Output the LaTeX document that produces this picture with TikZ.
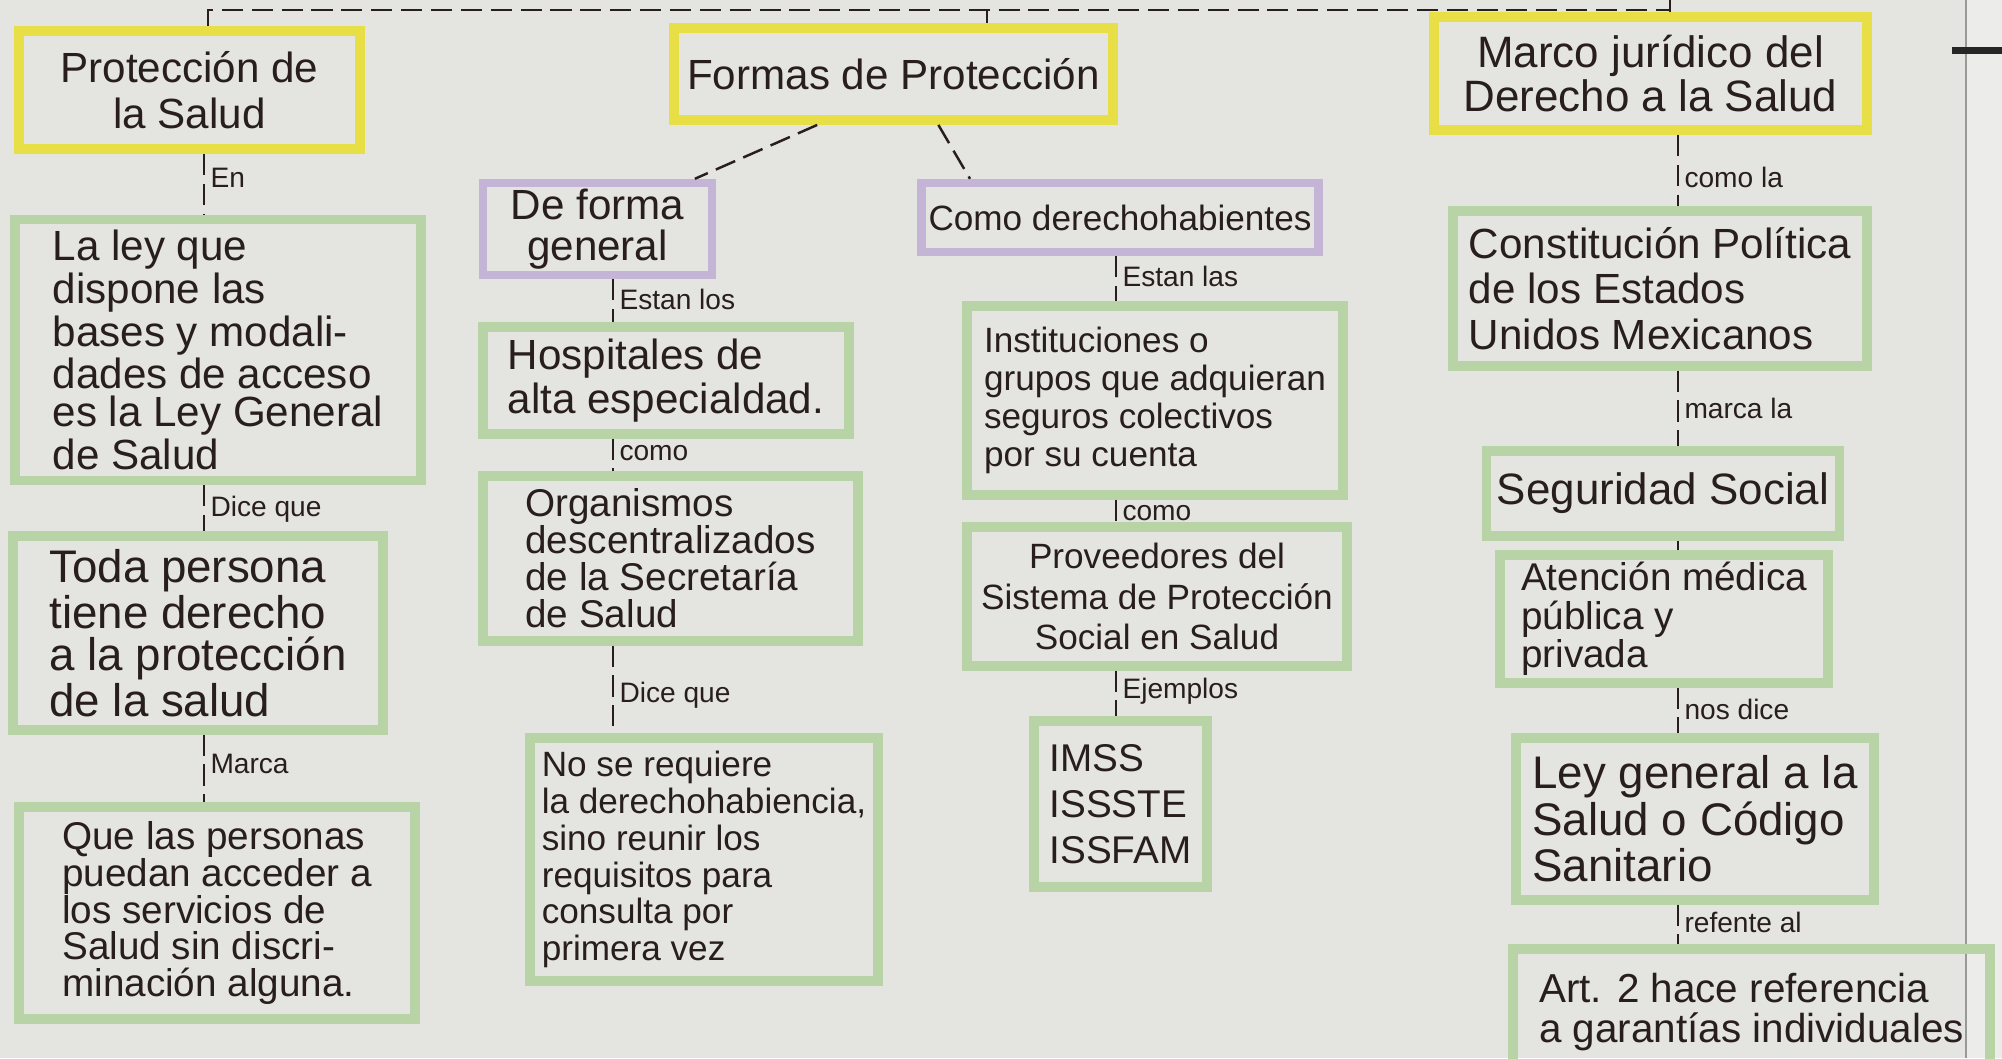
\documentclass[tikz,border=0pt]{standalone}
\usepackage{fontspec}
\setmainfont{Liberation Sans}
\usepackage{tikz}
\usetikzlibrary{positioning,calc}
\usepackage{xcolor}
\definecolor{paper}{RGB}{228,228,224}
\definecolor{paperedge}{RGB}{236,236,234}
\definecolor{ink}{RGB}{40,30,30}
\definecolor{mkyellow}{RGB}{232,222,70}
\definecolor{mkgreen}{RGB}{184,211,166}
\definecolor{mkpurple}{RGB}{196,180,214}
\newcommand{\hand}[2]{\fontsize{#1}{#2}\selectfont}
\tikzstyle{titlebox} = [rectangle, draw=mkyellow, line width=2.8pt, text=ink, align=center, inner sep=2pt]
\tikzstyle{formbox} = [rectangle, draw=mkpurple, line width=2.4pt, text=ink, align=center, inner sep=2pt]
\tikzstyle{infobox} = [rectangle, draw=mkgreen, line width=2.6pt, text=ink, align=left, inner sep=3pt]
\tikzstyle{link} = [line width=0.7pt, dash pattern=on 6pt off 2.5pt, color=ink]
\tikzstyle{lbl} = [right, font=\hand{8}{9}, text=ink, inner sep=1.5pt]

\begin{document}
\begin{tikzpicture}
\useasboundingbox (0,0) rectangle (20.02,-10.58);
\clip (0,0) rectangle (20.02,-10.58);
% Paper
\fill[paper] (0,0) rectangle (20.02,-10.58);
\fill[paperedge] (19.66,0) rectangle (20.02,-10.58);
\draw[black!40, line width=0.6pt] (19.66,0) -- (19.66,-10.58);
\fill[black!85] (19.52,-0.47) rectangle (20.02,-0.54);
% Columns
\coordinate (colA) at (2.04,0);
\coordinate (colB) at (6.13,0);
\coordinate (colC) at (11.16,0);
\coordinate (colD) at (16.78,0);
\coordinate (topL) at (2.08,-0.10);
\coordinate (topM) at (9.87,-0.10);
\coordinate (topR) at (16.70,0);
% Titles
\node (prot) [titlebox, minimum width=3.41cm, minimum height=1.18cm, font=\hand{12}{13}] at (1.895,-0.90) {Protección de\\la Salud};
\node (formas) [titlebox, minimum width=4.39cm, minimum height=0.92cm, font=\hand{12}{12}] at (8.935,-0.74) {Formas de Protección};
\node (marco) [titlebox, minimum width=4.33cm, minimum height=1.13cm, font=\hand{12.5}{12.5}] at (16.505,-0.735) {Marco jurídico del\\Derecho a la Salud};
% Forms
\node (general) [formbox, minimum width=2.29cm, minimum height=0.92cm, inner sep=1pt, font=\hand{12}{11.5}] at (5.975,-2.29) {De forma\\general};
\node (derecho) [formbox, minimum width=3.86cm, minimum height=0.69cm, font=\hand{10}{10}] at (11.20,-2.175) {Como derechohabientes};
% Left column
\node (ley) [infobox, minimum width=4.06cm, minimum height=2.50cm, font=\hand{12}{10.8}] at (2.18,-3.50) {La ley que\\dispone las\\bases y modali-\\dades de acceso\\es la Ley General\\de Salud};
\node (toda) [infobox, minimum width=3.70cm, minimum height=1.94cm, font=\hand{13}{12}] at (1.98,-6.33) {Toda persona\\tiene derecho\\a la protección\\de la salud};
\node (acceso) [infobox, minimum width=3.96cm, minimum height=2.12cm, font=\hand{11}{10.5}] at (2.17,-9.13) {Que las personas\\puedan acceder a\\los servicios de\\Salud sin discri-\\minación alguna.};
% Middle column
\node (hosp) [infobox, minimum width=3.66cm, minimum height=1.07cm, font=\hand{12}{12.5}] at (6.66,-3.805) {Hospitales de\\alta especialdad.};
\node (organ) [infobox, minimum width=3.75cm, minimum height=1.65cm, font=\hand{11}{10.5}] at (6.705,-5.585) {Organismos\\descentralizados\\de la Secretaría\\de Salud};
\node (noreq) [infobox, minimum width=3.48cm, minimum height=2.43cm, font=\hand{10}{10.5}] at (7.04,-8.595) {No se requiere\\la derechohabiencia,\\sino reunir los\\requisitos para\\consulta por\\primera vez};
\node (inst) [infobox, minimum width=3.76cm, minimum height=1.89cm, font=\hand{10}{10.8}] at (11.55,-4.005) {Instituciones o\\grupos que adquieran\\seguros colectivos\\por su cuenta};
\node (prov) [infobox, align=center, minimum width=3.80cm, minimum height=1.39cm, font=\hand{10}{11.5}] at (11.57,-5.965) {Proveedores del\\Sistema de Protección\\Social en Salud};
\node (imss) [infobox, minimum width=1.73cm, minimum height=1.66cm, font=\hand{11}{13}] at (11.205,-8.04) {IMSS\\ISSSTE\\ISSFAM};
% Right column
\node (const) [infobox, minimum width=4.14cm, minimum height=1.55cm, font=\hand{12}{13}] at (16.60,-2.885) {Constitución Política\\de los Estados\\Unidos Mexicanos};
\node (segur) [infobox, align=center, minimum width=3.52cm, minimum height=0.85cm, font=\hand{12.5}{12.5}] at (16.63,-4.935) {Seguridad Social};
\node (atenc) [infobox, minimum width=3.28cm, minimum height=1.28cm, inner sep=1pt, font=\hand{11}{11}] at (16.64,-6.19) {Atención médica\\pública y\\privada};
\node (leygen) [infobox, minimum width=3.58cm, minimum height=1.62cm, font=\hand{13}{12}] at (16.95,-8.19) {Ley general a la\\Salud o Código\\Sanitario};
\node (art) [infobox, minimum width=4.77cm, minimum height=1.26cm, font=\hand{11.5}{11.5}] at (17.515,-10.12) {Art. 2 hace referencia\\a garantías individuales};
% Links
\draw[link] (prot.north -| topL) -- (topL) -- (topR |- topL);
\draw[link] (formas.north -| topM) -- (topM);
\draw[link] (topR) -- (marco.north -| topR);
\draw[link] ($(formas.south west)!0.33!(formas.south east)$) -- ($(general.north west)!0.91!(general.north east)$);
\draw[link] ($(formas.south west)!0.60!(formas.south east)$) -- ($(derecho.north west)!0.13!(derecho.north east)$);
\draw[link] (prot.south -| colA) -- node[lbl, pos=0.4] {En} (ley.north -| colA);
\draw[link] (ley.south -| colA) -- node[lbl, pos=0.52] {Dice que} (toda.north -| colA);
\draw[link] (toda.south -| colA) -- node[lbl, pos=0.44] {Marca} (acceso.north -| colA);
\draw[link] (general.south -| colB) -- node[lbl, pos=0.46] {Estan los} (hosp.north -| colB);
\draw[link] (hosp.south -| colB) -- node[lbl, pos=0.45] {como} (organ.north -| colB);
\draw[link] (organ.south -| colB) -- node[lbl, pos=0.57] {Dice que} (noreq.north -| colB);
\draw[link] (derecho.south -| colC) -- node[lbl, pos=0.44] {Estan las} (inst.north -| colC);
\draw[link] (inst.south -| colC) -- node[lbl, pos=0.6] {como} (prov.north -| colC);
\draw[link] (prov.south -| colC) -- node[lbl, pos=0.44] {Ejemplos} (imss.north -| colC);
\draw[link] (marco.south -| colD) -- node[lbl, pos=0.6] {como la} (const.north -| colD);
\draw[link] (const.south -| colD) -- node[lbl, pos=0.5] {marca la} (segur.north -| colD);
\draw[link] (segur.south -| colD) -- (atenc.north -| colD);
\draw[link] (atenc.south -| colD) -- node[lbl, pos=0.47] {nos dice} (leygen.north -| colD);
\draw[link] (leygen.south -| colD) -- node[lbl, pos=0.45] {refente al} (art.north -| colD);
\end{tikzpicture}
\end{document}
